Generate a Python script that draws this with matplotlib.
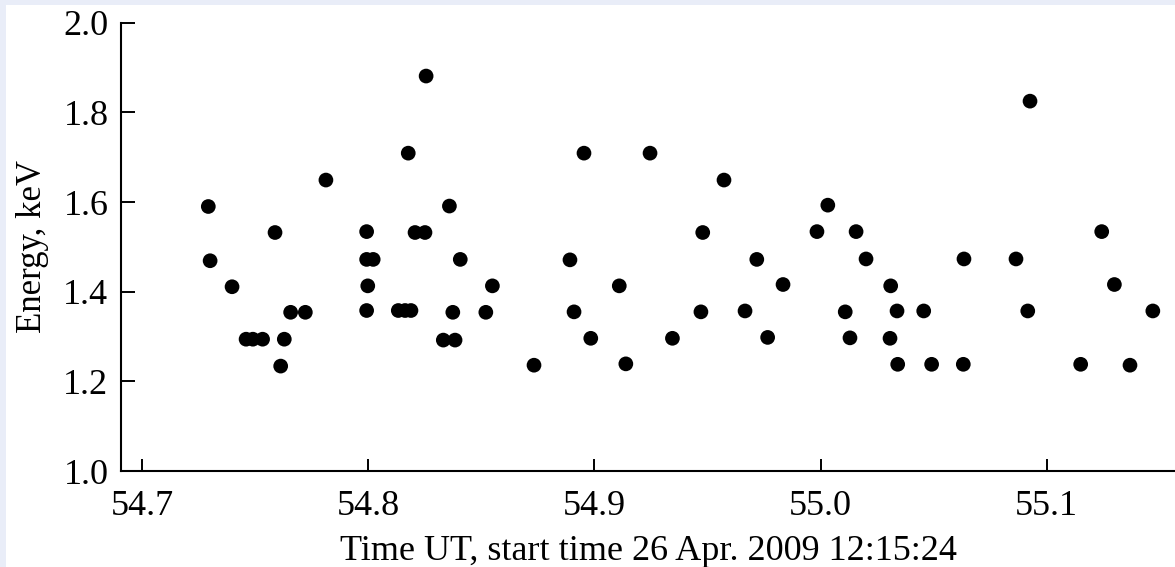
import matplotlib.pyplot as plt
from matplotlib.patches import Rectangle

# time (UT, relative minutes) and energy of the events
time_ut = [54.7293, 54.7301, 54.7398, 54.7460, 54.7490, 54.7533, 54.7588, 54.7613,
           54.7629, 54.7657, 54.7722, 54.7813,
           54.7993, 54.7993, 54.7998, 54.7993, 54.8022, 54.8133, 54.8163, 54.8189,
           54.8177, 54.8207, 54.8251, 54.8256, 54.8332, 54.8359, 54.8374, 54.8384,
           54.8407, 54.8520, 54.8549,
           54.8733, 54.8892, 54.8910, 54.8954, 54.8984, 54.9110, 54.9139, 54.9246,
           54.9345, 54.9471, 54.9479, 54.9573, 54.9666, 54.9718, 54.9766, 54.9834,
           54.9984, 55.0032, 55.0109, 55.0130, 55.0157, 55.0201, 55.0307, 55.0310,
           55.0338, 55.0341, 55.0456, 55.0491, 55.0631, 55.0634,
           55.0864, 55.0916, 55.0926, 55.1150, 55.1243, 55.1299, 55.1368, 55.1469]
energy = [1.590, 1.469, 1.411, 1.294, 1.294, 1.294, 1.532, 1.234,
          1.294, 1.354, 1.354, 1.649,
          1.534, 1.472, 1.413, 1.358, 1.472, 1.358, 1.358, 1.358,
          1.709, 1.532, 1.532, 1.881, 1.292, 1.591, 1.354, 1.292,
          1.472, 1.354, 1.413,
          1.236, 1.471, 1.355, 1.709, 1.296, 1.413, 1.239, 1.709,
          1.296, 1.355, 1.532, 1.649, 1.357, 1.472, 1.298, 1.416,
          1.534, 1.593, 1.355, 1.297, 1.534, 1.473, 1.296, 1.413,
          1.357, 1.238, 1.357, 1.238, 1.238, 1.473,
          1.473, 1.357, 1.825, 1.238, 1.534, 1.416, 1.236, 1.357]

x_ticks = [54.7, 54.8, 54.9, 55.0, 55.1]
y_ticks = [1.0, 1.2, 1.4, 1.6, 1.8, 2.0]

plt.rcParams['font.family'] = ['Liberation Serif', 'DejaVu Serif']

fig = plt.figure(figsize=(11.75, 5.67), dpi=100, facecolor='#e9edf8')
# white page area inside the light border
fig.patches.append(Rectangle((6 / 1175, 0), 1 - 6 / 1175, 1 - 5 / 567,
                             transform=fig.transFigure, facecolor='white',
                             edgecolor='none', zorder=-10))

ax = fig.add_axes([121 / 1175, 96 / 567, 1 - 121 / 1175, 448.3 / 567])
ax.set_facecolor('none')

ax.scatter(time_ut, energy, s=112, color='black', edgecolors='none', clip_on=False)

ax.set_xlim(54.6907, 55.1567)
ax.set_ylim(1.0, 2.0)
ax.set_xticks(x_ticks)
ax.set_yticks(y_ticks)
ax.set_xticklabels([f'{v:.1f}' for v in x_ticks])
ax.set_yticklabels([f'{v:.1f}' for v in y_ticks])

ax.spines['top'].set_visible(False)
ax.spines['right'].set_visible(False)
ax.spines['left'].set_linewidth(1.5)
ax.spines['bottom'].set_linewidth(1.5)

ax.tick_params(axis='x', direction='in', length=8.6, width=1.4, pad=14, labelsize=26)
ax.tick_params(axis='y', direction='in', length=10, width=1.4, pad=9, labelsize=26)

ax.set_xlabel('Time UT, start time 26 Apr. 2009 12:15:24', fontsize=26, labelpad=8)
ax.set_ylabel('Energy, keV', fontsize=25, labelpad=10)

plt.savefig('out.png', dpi=100, facecolor=fig.get_facecolor())
